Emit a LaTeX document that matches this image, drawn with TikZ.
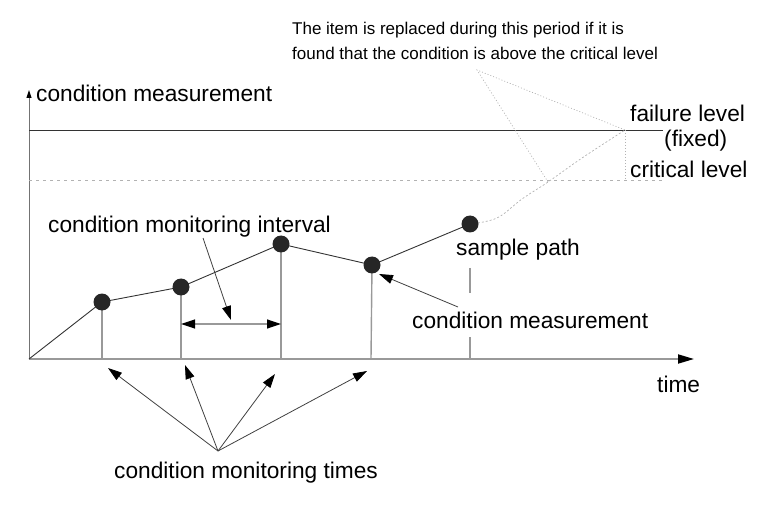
\documentclass[tikz,border=0pt]{standalone}
\usepackage{fontspec}
\setmainfont{Liberation Sans}
\usetikzlibrary{arrows.meta}

\begin{document}
\begin{tikzpicture}[x=1pt, y=-1pt,
  every node/.style={font=\fontsize{22.7}{26}\selectfont, inner sep=0pt},
  tip/.style={-{Triangle[length=14pt, width=9pt, black]}},
  xaxis/.style={draw=gray!80, line width=1.8pt, -{Triangle[length=16pt, width=9pt, black]}},
  yaxis/.style={draw=gray!90!black, line width=1pt, -{Triangle[length=8pt, width=5pt, black]}},
  stem/.style={draw=gray!80, line width=1.4pt},
  pathline/.style={draw=black!80, line width=0.9pt},
  pointer/.style={draw=black!75, line width=0.8pt, tip},
  guide/.style={draw=gray!60, line width=0.7pt, dash pattern=on 2pt off 2pt},
  meas/.style={circle, fill=black!85, minimum size=17pt}]
  \useasboundingbox (0,0) rectangle (758,505);

  % axes
  \coordinate (O) at (29,359);
  \coordinate (ytip) at (29,90);
  \coordinate (xtip) at (694,359);
  \draw[yaxis] (O) -- (ytip);
  \draw[xaxis] (O) -- (xtip);
  \node[anchor=base west] (ylab) at (36,102) {condition measurement};
  \node[anchor=base west] (tlab) at (657,392) {time};

  % levels
  \coordinate (f0) at (29,130);  \coordinate (f1) at (663,130);
  \coordinate (c0) at (29,180);  \coordinate (c1) at (665,180);
  \draw[black!80, line width=0.8pt] (f0) -- (f1);
  \draw[guide, dash pattern=on 3pt off 4pt] (c0) -- (c1);
  \node[anchor=base west] (fail) at (630,122) {failure level};
  \node[anchor=base west] (fixed) at (664,147) {(fixed)};
  \node[anchor=base west] (crit) at (630,178) {critical level};

  % monitoring times on the axis
  \foreach \n/\x in {1/102, 2/181, 3/281, 4/371, 5/470}
    \coordinate (t\n) at (\x,359);
  \coordinate (m1) at (102,302);
  \coordinate (m2) at (181,287);
  \coordinate (m3) at (281,244);
  \coordinate (m4) at (372,265);
  \coordinate (m5) at (470,224);
  \foreach \n in {1,...,4}
    \draw[stem] (m\n) -- (t\n);
  \coordinate (s5a) at (470,268);  \coordinate (s5b) at (470,293);
  \coordinate (s5c) at (470,337);
  \draw[stem] (s5a) -- (s5b);
  \draw[stem] (s5c) -- (t5);

  % sample path
  \draw[pathline] (O) -- (m1) -- (m2) -- (m3) -- (m4) -- (m5);
  \coordinate (cross) at (548,182);
  \coordinate (fpt) at (625,130);
  \draw[guide] plot[smooth, tension=0.6] coordinates {(m5) (497,218) (522,199) (cross) (582,158) (fpt)};
  \draw[guide, dash pattern=on 1pt off 2pt] (fpt) -- (625,180);
  \foreach \n in {1,...,5}
    \node[meas] (d\n) at (m\n) {};

  % replacement period note
  \node[anchor=base west, align=left, font=\fontsize{17}{25}\selectfont] (note) at (292,60)
    {The item is replaced during this period if it is\\found that the condition is above the critical level};
  \coordinate (apex) at (477,70);
  \draw[guide, dash pattern=on 1pt off 2pt] (cross) -- (apex) -- (fpt);

  % labels with pointers
  \node[anchor=base west] (spath) at (456,255) {sample path};
  \node[anchor=base west] (cmeas) at (412,328) {condition measurement};
  \coordinate (cm0) at (458,307);
  \coordinate (cm1) at (379,274);
  \draw[pointer] (cm0) -- (cm1);

  \node[anchor=base west] (ival) at (48,233) {condition monitoring interval};
  \coordinate (iv0) at (181,324);  \coordinate (iv1) at (281,324);
  \draw[stem, line width=1.2pt, {Triangle[length=14pt, width=9pt, black]}-{Triangle[length=14pt, width=9pt, black]}] (iv0) -- (iv1);
  \coordinate (ivm) at (231,320);
  \draw[pointer] (203,238) -- (ivm);

  \node[anchor=base west] (ctimes) at (114,478) {condition monitoring times};
  \coordinate (root) at (218,451);
  \coordinate (a1) at (108,368);
  \coordinate (a2) at (185,365);
  \coordinate (a3) at (275,374);
  \coordinate (a4) at (367,371);
  \foreach \n in {1,...,4}
    \draw[pointer] (root) -- (a\n);
\end{tikzpicture}
\end{document}
